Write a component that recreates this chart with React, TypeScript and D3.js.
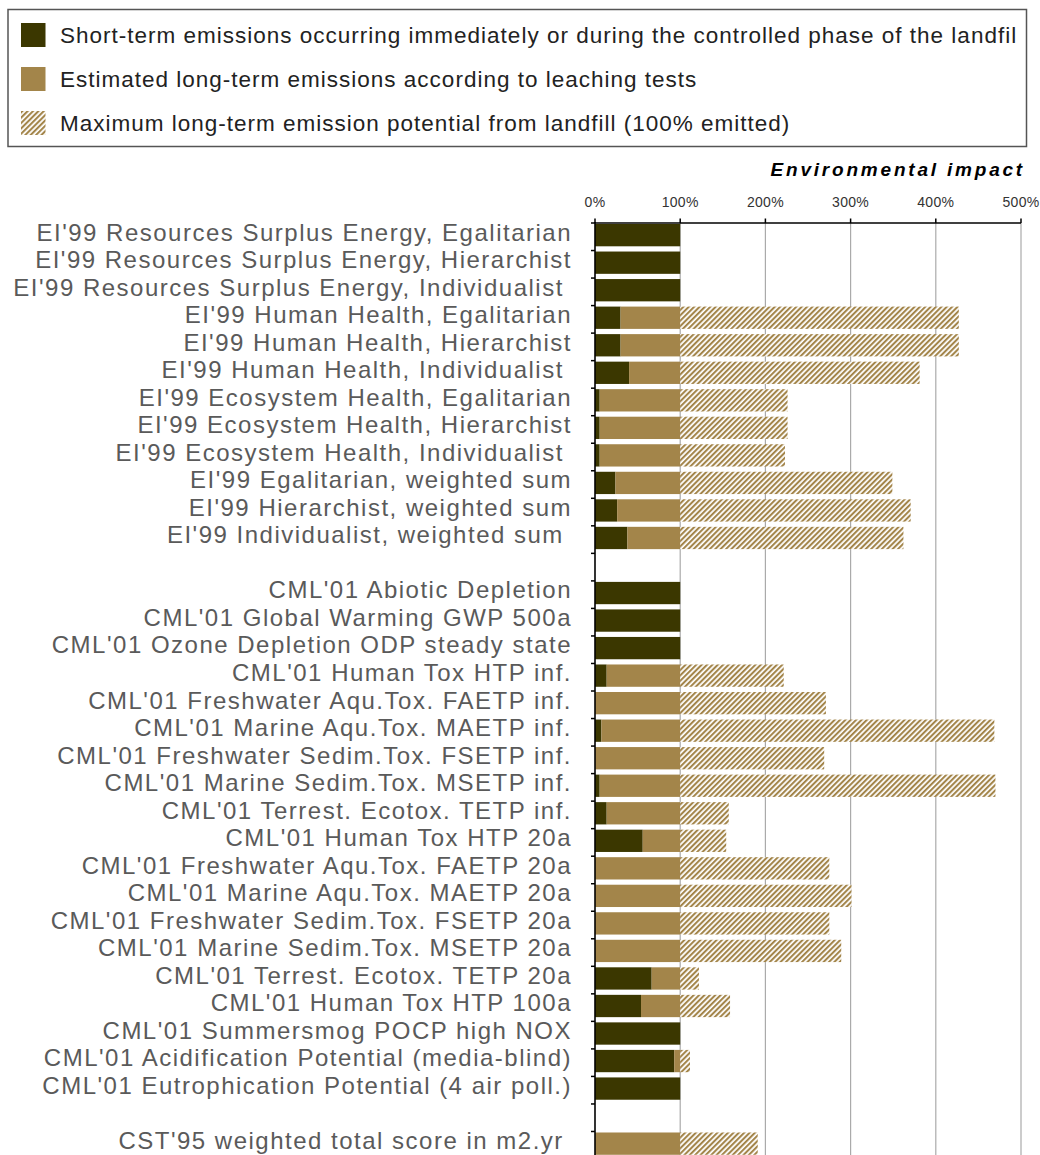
import { useMemo } from "react";
import * as d3 from "d3";

// row labels (empty string = spacer row)
const labels = [
  "EI'99 Resources Surplus Energy, Egalitarian",
  "EI'99 Resources Surplus Energy, Hierarchist",
  "EI'99 Resources Surplus Energy, Individualist ",
  "EI'99 Human Health, Egalitarian",
  "EI'99 Human Health, Hierarchist",
  "EI'99 Human Health, Individualist ",
  "EI'99 Ecosystem Health, Egalitarian",
  "EI'99 Ecosystem Health, Hierarchist",
  "EI'99 Ecosystem Health, Individualist ",
  "EI'99 Egalitarian, weighted sum",
  "EI'99 Hierarchist, weighted sum",
  "EI'99 Individualist, weighted sum ",
  "",
  "CML'01 Abiotic Depletion",
  "CML'01 Global Warming GWP 500a",
  "CML'01 Ozone Depletion ODP steady state",
  "CML'01 Human Tox HTP inf.",
  "CML'01 Freshwater Aqu.Tox. FAETP inf.",
  "CML'01 Marine Aqu.Tox. MAETP inf.",
  "CML'01 Freshwater Sedim.Tox. FSETP inf.",
  "CML'01 Marine Sedim.Tox. MSETP inf.",
  "CML'01 Terrest. Ecotox. TETP inf.",
  "CML'01 Human Tox HTP 20a",
  "CML'01 Freshwater Aqu.Tox. FAETP 20a",
  "CML'01 Marine Aqu.Tox. MAETP 20a",
  "CML'01 Freshwater Sedim.Tox. FSETP 20a",
  "CML'01 Marine Sedim.Tox. MSETP 20a",
  "CML'01 Terrest. Ecotox. TETP 20a",
  "CML'01 Human Tox HTP 100a",
  "CML'01 Summersmog POCP high NOX",
  "CML'01 Acidification Potential (media-blind)",
  "CML'01 Eutrophication Potential (4 air poll.)",
  "",
  "CST'95 weighted total score in m2.yr ",
];

// % of reference impact
const shortTerm = [100, 100, 100, 30, 30, 40, 5.5, 5.5, 5.5, 24, 26, 38, 0,
  100, 100, 100, 13.7, 0, 7.5, 0, 5.5, 13.7, 56, 0, 0, 0, 0, 66.5, 54, 100, 93, 100, 0, 0];
const longTermLeaching = [0, 0, 0, 70, 70, 60, 94.5, 94.5, 94.5, 76, 74, 62, 0,
  0, 0, 0, 86.3, 100, 92.5, 100, 94.5, 86.3, 44, 100, 100, 100, 100, 33.5, 46, 0, 7, 0, 0, 100];
const maxPotential = [0, 0, 0, 427, 427, 381, 226, 226, 223, 349, 370.5, 362, 0,
  0, 0, 0, 221.5, 271, 468.7, 269, 470, 157, 154, 275, 301, 275, 289, 122, 158.5, 0, 111.5, 0, 0, 191];

const xTicks = [0, 100, 200, 300, 400, 500];

const legendItems = [
  "Short-term emissions occurring immediately or during the controlled phase of the landfil",
  "Estimated long-term emissions according to leaching tests",
  "Maximum long-term emission potential from landfill (100% emitted)",
];

const DARK = "#3b3700";
const TAN = "#a3854a";
const FONT = "'Liberation Sans', Arial, sans-serif";

const App = () => {
  const width = 1040;
  const height = 1155;
  const keys = ["short", "long", "extra"];

  const rows = useMemo(() => labels.map((l, i) => ({
    idx: i,
    label: l,
    short: shortTerm[i],
    long: longTermLeaching[i],
    extra: maxPotential[i] > 0 ? maxPotential[i] - shortTerm[i] - longTermLeaching[i] : 0,
  })), []);

  const series = d3.stack<any>().keys(keys)(rows);

  const xScale = d3.scaleLinear().domain([0, 500]).range([595, 1021]);
  const yScale = d3.scaleBand<number>()
    .domain(rows.map(d => d.idx))
    .range([223, 223 + 27.53 * rows.length]);
  const bw = yScale.bandwidth();
  const barH = bw * 0.81;

  const fills: Record<string, string> = { short: DARK, long: TAN, extra: "url(#hatch)" };

  return (
    <svg width={width} height={height} style={{ position: 'absolute', left: 0, top: 0, background: '#fff' }} fontFamily={FONT}>
      <defs>
        <pattern id="hatch" patternUnits="userSpaceOnUse" width={3.8} height={3.8} patternTransform="rotate(45)">
          <rect width={3.8} height={3.8} fill="#fff" />
          <line x1={1} y1={0} x2={1} y2={3.8} stroke={TAN} strokeWidth={2.1} />
        </pattern>
      </defs>

      {/* legend */}
      <rect x={8} y={9.5} width={1018.5} height={137} fill="none" stroke="#555" strokeWidth={1.5} />
      {legendItems.map((t, i) => (
        <g key={t} transform={`translate(21,${23 + i * 44})`}>
          <rect width={24.5} height={24} fill={i === 0 ? DARK : i === 1 ? TAN : "url(#hatch)"} />
          <text x={39} y={20} fontSize={22.5} letterSpacing={1.0} fill="#222">{t}</text>
        </g>
      ))}

      {/* title */}
      <text x={1025} y={176} textAnchor="end" fontSize={19} fontWeight="bold" fontStyle="italic" letterSpacing={2.8} fill="#000">Environmental impact</text>

      {/* x tick labels */}
      {xTicks.map(t => (
        <text key={t} x={xScale(t)} y={207} textAnchor="middle" fontSize={14} letterSpacing={0.3} fill="#333">{t}%</text>
      ))}

      {/* gridlines */}
      {xTicks.slice(1).map(t => (
        <line key={t} x1={xScale(t)} x2={xScale(t)} y1={223} y2={height} stroke="#aaa" strokeWidth={1.2} />
      ))}

      {/* bars */}
      {series.map(s => (
        <g key={s.key} fill={fills[s.key]}>
          {s.map((d, i) => (d[1] - d[0] > 0 ?
            <rect
              key={i}
              x={xScale(d[0])}
              y={(yScale(rows[i].idx) as number) + 1}
              width={xScale(d[1]) - xScale(d[0])}
              height={barH}
            /> : null))}
        </g>
      ))}

      {/* axes */}
      <line x1={595} x2={1021} y1={223} y2={223} stroke="#000" strokeWidth={1.5} />
      {xTicks.map(t => (
        <line key={t} x1={xScale(t)} x2={xScale(t)} y1={218.5} y2={223} stroke="#000" strokeWidth={1.5} />
      ))}
      <line x1={595} x2={595} y1={222} y2={height} stroke="#000" strokeWidth={1.6} />
      {rows.map(d => (
        <line key={d.idx} x1={591} x2={595} y1={yScale(d.idx)} y2={yScale(d.idx)} stroke="#000" strokeWidth={1.5} />
      ))}

      {/* row labels */}
      {rows.map(d => (
        <text
          key={d.idx}
          x={572}
          y={(yScale(d.idx) as number) + 17.5}
          textAnchor="end"
          fontSize={24}
          letterSpacing={1.5}
          fill="#5a5a5a"
          style={{ whiteSpace: 'pre' }}
        >{d.label}</text>
      ))}
    </svg>
  );
};

export default App;
